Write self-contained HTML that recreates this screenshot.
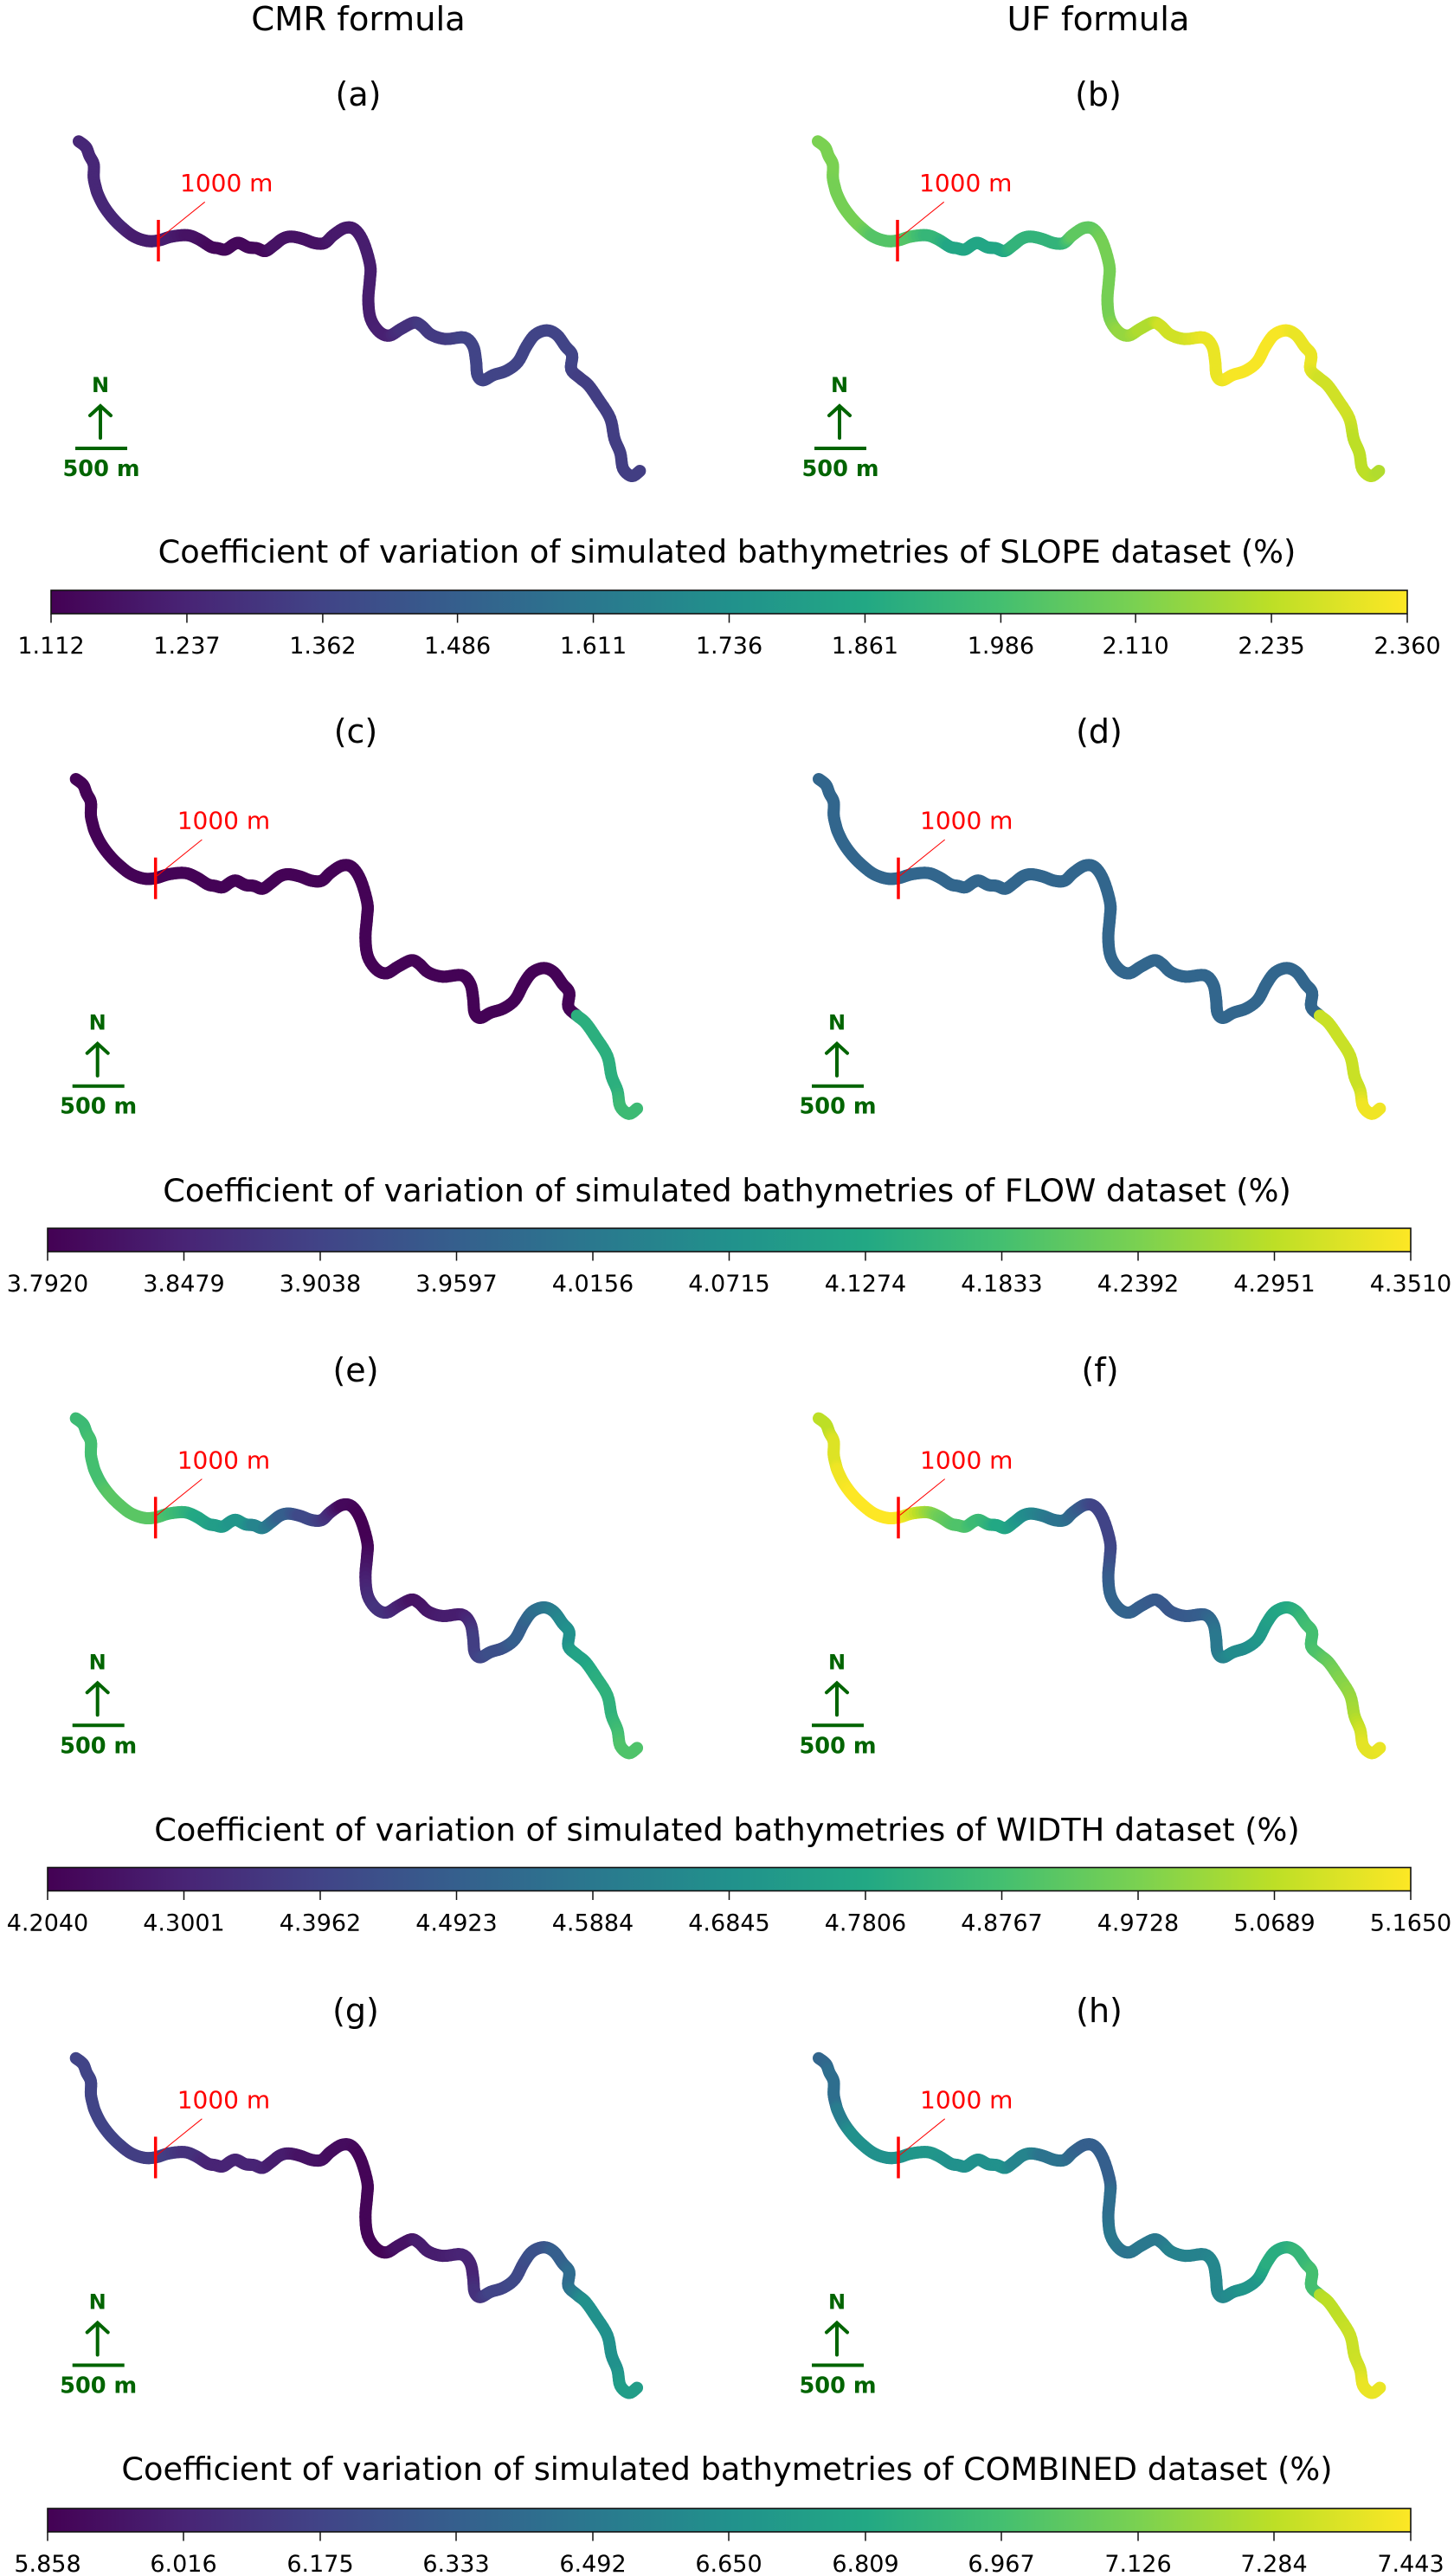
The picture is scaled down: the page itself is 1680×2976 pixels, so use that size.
<!DOCTYPE html>
<html lang="en">
<head>
<meta charset="utf-8">
<title>Coefficient of variation of simulated bathymetries</title>
<style>
html,body{margin:0;padding:0;background:#fff;}
svg{display:block;font-family:"DejaVu Sans","Liberation Sans",sans-serif;}
.col{font-size:38.5px;text-anchor:middle;fill:#000;}
.sub{font-size:38px;text-anchor:middle;fill:#000;}
.cbt{font-size:36.7px;text-anchor:middle;fill:#000;}
.km{font-size:28px;fill:#f00;}
.n{font-size:24px;font-weight:bold;fill:#006400;text-anchor:middle;}
.sc{font-size:25.6px;font-weight:bold;fill:#006400;text-anchor:middle;}
.tl{font-size:27px;text-anchor:middle;fill:#000;}
</style>
</head>
<body>
<svg id="fig" width="1680" height="2976" viewBox="0 0 1680 2976" xmlns="http://www.w3.org/2000/svg">
<defs>
<linearGradient id="viridis" x1="0" x2="1" y1="0" y2="0">
<stop offset="0" stop-color="#440154"/><stop offset=".1" stop-color="#482475"/><stop offset=".2" stop-color="#414487"/><stop offset=".3" stop-color="#355f8d"/><stop offset=".4" stop-color="#2a788e"/><stop offset=".5" stop-color="#21918c"/><stop offset=".6" stop-color="#22a884"/><stop offset=".7" stop-color="#44bf70"/><stop offset=".8" stop-color="#7ad151"/><stop offset=".9" stop-color="#bddf26"/><stop offset="1" stop-color="#fde725"/>
</linearGradient>
</defs>
<rect width="1680" height="2976" fill="#fff"/>

<text class="col" x="414" y="35">CMR formula</text>
<text class="col" x="1269" y="35">UF formula</text>

<text class="sub" x="414" y="122">(a)</text>
<text class="sub" x="1269" y="122">(b)</text>
<text class="sub" x="411" y="858">(c)</text>
<text class="sub" x="1270" y="858">(d)</text>
<text class="sub" x="411" y="1596">(e)</text>
<text class="sub" x="1271" y="1596">(f)</text>
<text class="sub" x="411" y="2336">(g)</text>
<text class="sub" x="1270" y="2336">(h)</text>

<g id="panel-a" transform="translate(0,0)">
<g class="river"></g>
<line x1="183" y1="254" x2="183" y2="302" stroke="#f00" stroke-width="3.5"/>
<line x1="185" y1="275" x2="236.7" y2="233.3" stroke="#f00" stroke-width="1"/>
<text class="km" x="208" y="221">1000 m</text>
<text class="n" x="116" y="453">N</text>
<path d="M116 506V470M104 480L116 469L128 480" fill="none" stroke="#006400" stroke-width="4" stroke-linecap="round"/>
<line x1="87" y1="518" x2="147" y2="518" stroke="#006400" stroke-width="4"/>
<text class="sc" x="117" y="550">500 m</text>
</g>

<g id="panel-b" transform="translate(854,0)">
<g class="river"></g>
<line x1="183" y1="254" x2="183" y2="302" stroke="#f00" stroke-width="3.5"/>
<line x1="185" y1="275" x2="236.7" y2="233.3" stroke="#f00" stroke-width="1"/>
<text class="km" x="208" y="221">1000 m</text>
<text class="n" x="116" y="453">N</text>
<path d="M116 506V470M104 480L116 469L128 480" fill="none" stroke="#006400" stroke-width="4" stroke-linecap="round"/>
<line x1="87" y1="518" x2="147" y2="518" stroke="#006400" stroke-width="4"/>
<text class="sc" x="117" y="550">500 m</text>
</g>

<g id="panel-c" transform="translate(-3.3,736.7)">
<g class="river"></g>
<line x1="183" y1="254" x2="183" y2="302" stroke="#f00" stroke-width="3.5"/>
<line x1="185" y1="275" x2="236.7" y2="233.3" stroke="#f00" stroke-width="1"/>
<text class="km" x="208" y="221">1000 m</text>
<text class="n" x="116" y="453">N</text>
<path d="M116 506V470M104 480L116 469L128 480" fill="none" stroke="#006400" stroke-width="4" stroke-linecap="round"/>
<line x1="87" y1="518" x2="147" y2="518" stroke="#006400" stroke-width="4"/>
<text class="sc" x="117" y="550">500 m</text>
</g>

<g id="panel-d" transform="translate(855,736.7)">
<g class="river"></g>
<line x1="183" y1="254" x2="183" y2="302" stroke="#f00" stroke-width="3.5"/>
<line x1="185" y1="275" x2="236.7" y2="233.3" stroke="#f00" stroke-width="1"/>
<text class="km" x="208" y="221">1000 m</text>
<text class="n" x="112" y="453">N</text>
<path d="M112 506V470M100 480L112 469L124 480" fill="none" stroke="#006400" stroke-width="4" stroke-linecap="round"/>
<line x1="83" y1="518" x2="143" y2="518" stroke="#006400" stroke-width="4"/>
<text class="sc" x="113" y="550">500 m</text>
</g>

<g id="panel-e" transform="translate(-3.3,1475.3)">
<g class="river"></g>
<line x1="183" y1="254" x2="183" y2="302" stroke="#f00" stroke-width="3.5"/>
<line x1="185" y1="275" x2="236.7" y2="233.3" stroke="#f00" stroke-width="1"/>
<text class="km" x="208" y="221">1000 m</text>
<text class="n" x="116" y="453">N</text>
<path d="M116 506V470M104 480L116 469L128 480" fill="none" stroke="#006400" stroke-width="4" stroke-linecap="round"/>
<line x1="87" y1="518" x2="147" y2="518" stroke="#006400" stroke-width="4"/>
<text class="sc" x="117" y="550">500 m</text>
</g>

<g id="panel-f" transform="translate(855,1475.3)">
<g class="river"></g>
<line x1="183" y1="254" x2="183" y2="302" stroke="#f00" stroke-width="3.5"/>
<line x1="185" y1="275" x2="236.7" y2="233.3" stroke="#f00" stroke-width="1"/>
<text class="km" x="208" y="221">1000 m</text>
<text class="n" x="112" y="453">N</text>
<path d="M112 506V470M100 480L112 469L124 480" fill="none" stroke="#006400" stroke-width="4" stroke-linecap="round"/>
<line x1="83" y1="518" x2="143" y2="518" stroke="#006400" stroke-width="4"/>
<text class="sc" x="113" y="550">500 m</text>
</g>

<g id="panel-g" transform="translate(-3.3,2214.5)">
<g class="river"></g>
<line x1="183" y1="254" x2="183" y2="302" stroke="#f00" stroke-width="3.5"/>
<line x1="185" y1="275" x2="236.7" y2="233.3" stroke="#f00" stroke-width="1"/>
<text class="km" x="208" y="221">1000 m</text>
<text class="n" x="116" y="453">N</text>
<path d="M116 506V470M104 480L116 469L128 480" fill="none" stroke="#006400" stroke-width="4" stroke-linecap="round"/>
<line x1="87" y1="518" x2="147" y2="518" stroke="#006400" stroke-width="4"/>
<text class="sc" x="117" y="550">500 m</text>
</g>

<g id="panel-h" transform="translate(855,2214.5)">
<g class="river"></g>
<line x1="183" y1="254" x2="183" y2="302" stroke="#f00" stroke-width="3.5"/>
<line x1="185" y1="275" x2="236.7" y2="233.3" stroke="#f00" stroke-width="1"/>
<text class="km" x="208" y="221">1000 m</text>
<text class="n" x="112" y="453">N</text>
<path d="M112 506V470M100 480L112 469L124 480" fill="none" stroke="#006400" stroke-width="4" stroke-linecap="round"/>
<line x1="83" y1="518" x2="143" y2="518" stroke="#006400" stroke-width="4"/>
<text class="sc" x="113" y="550">500 m</text>
</g>

<text class="cbt" x="840" y="650">Coefficient of variation of simulated bathymetries of SLOPE dataset (%)</text>
<text class="cbt" x="840" y="1388">Coefficient of variation of simulated bathymetries of FLOW dataset (%)</text>
<text class="cbt" x="840" y="2126.5">Coefficient of variation of simulated bathymetries of WIDTH dataset (%)</text>
<text class="cbt" x="840" y="2865">Coefficient of variation of simulated bathymetries of COMBINED dataset (%)</text>

<g id="cbar-slope"></g>
<g id="cbar-flow"></g>
<g id="cbar-width"></g>
<g id="cbar-combined"></g>
</svg>

<script>
// River centreline, map coordinates in metres from the lower-left corner of the panel.
const riverEasting = [50,119,153,194,194,214,236,292,375,472,
583,708,819,944,1097,1208,1319,1389,1464,1542,
1597,1681,1764,1847,1931,2014,2097,2208,2319,2417,
2500,2611,2708,2792,2856,2853,2838,2861,2944,3042,
3153,3278,3353,3444,3583,3764,3847,3875,3889,3944,
4042,4167,4278,4361,4444,4556,4653,4736,4800,4792,
4875,4958,5056,5167,5208,5264,5292,5375,5453];
const riverNorthing = [3306,3250,3167,3083,2958,2861,2792,2681,2569,2472,
2389,2347,2352,2389,2402,2361,2292,2277,2264,2314,
2327,2286,2277,2250,2306,2369,2389,2367,2327,2327,
2402,2472,2458,2333,2111,1972,1778,1597,1472,1436,
1500,1561,1528,1444,1403,1417,1333,1194,1056,1006,
1056,1097,1181,1333,1444,1486,1444,1333,1250,1111,
1028,958,819,639,444,306,153,83,133];

// Coefficient of variation (%) at each river station, one array per panel.
const cvSlopeCmr = [1.249,1.249,1.249,1.249,1.249,1.249,1.249,1.249,1.249,1.249,
1.212,1.212,1.212,1.212,1.174,1.174,1.137,1.137,1.137,1.137,
1.137,1.137,1.137,1.137,1.174,1.174,1.174,1.174,1.174,1.174,
1.199,1.199,1.199,1.212,1.212,1.212,1.212,1.212,1.224,1.224,
1.287,1.287,1.324,1.324,1.324,1.362,1.362,1.362,1.362,1.362,
1.362,1.362,1.362,1.362,1.362,1.362,1.362,1.362,1.362,1.362,
1.337,1.337,1.337,1.337,1.337,1.337,1.337,1.337,1.337];
const cvSlopeUf = [2.110,2.110,2.110,2.110,2.110,2.098,2.098,2.098,2.098,2.098,
2.023,2.023,2.023,2.023,1.936,1.936,1.848,1.848,1.848,1.848,
1.848,1.848,1.848,1.848,1.923,1.923,1.923,1.923,1.923,1.923,
2.048,2.048,2.048,2.098,2.098,2.098,2.098,2.098,2.160,2.160,
2.210,2.210,2.273,2.273,2.273,2.323,2.323,2.323,2.323,2.323,
2.348,2.348,2.348,2.348,2.348,2.348,2.323,2.323,2.323,2.323,
2.273,2.273,2.273,2.273,2.235,2.235,2.235,2.235,2.210];
const cvFlowCmr = [3.795,3.795,3.795,3.795,3.795,3.795,3.795,3.795,3.795,3.795,
3.795,3.795,3.795,3.795,3.795,3.795,3.795,3.795,3.795,3.795,
3.795,3.795,3.795,3.795,3.795,3.795,3.795,3.795,3.795,3.795,
3.795,3.795,3.795,3.795,3.795,3.795,3.795,3.795,3.795,3.795,
3.795,3.795,3.795,3.795,3.795,3.795,3.795,3.795,3.795,3.795,
3.795,3.795,3.795,3.795,3.795,3.795,3.795,3.795,3.795,3.795,
4.144,4.144,4.144,4.144,4.144,4.144,4.172,4.172,4.172];
const cvFlowUf = [3.976,3.976,3.976,3.976,3.976,3.976,3.976,3.976,3.976,3.976,
3.976,3.976,3.976,3.976,3.976,3.976,3.976,3.976,3.976,3.976,
3.976,3.976,3.976,3.976,3.976,3.976,3.976,3.976,3.976,3.976,
3.976,3.976,3.976,3.976,3.976,3.976,3.976,3.976,3.976,3.976,
3.976,3.976,3.976,3.976,3.976,3.976,3.976,3.976,3.976,3.976,
3.976,3.976,3.976,3.976,3.976,3.976,3.976,3.976,3.976,3.976,
4.306,4.306,4.306,4.306,4.306,4.306,4.340,4.340,4.340];
const cvWidthCmr = [4.857,4.857,4.857,4.877,4.877,4.877,4.877,4.877,4.915,4.915,
4.915,4.915,4.915,4.877,4.829,4.781,4.761,4.733,4.733,4.704,
4.704,4.704,4.636,4.636,4.569,4.492,4.492,4.415,4.415,4.377,
4.319,4.223,4.223,4.204,4.204,4.233,4.281,4.319,4.348,4.339,
4.300,4.252,4.252,4.262,4.281,4.281,4.319,4.377,4.377,4.396,
4.435,4.435,4.492,4.492,4.540,4.569,4.608,4.656,4.685,4.685,
4.761,4.761,4.800,4.819,4.819,4.857,4.896,4.896,4.896];
const cvWidthUf = [5.069,5.069,5.069,5.117,5.117,5.117,5.146,5.146,5.165,5.165,
5.165,5.165,5.165,5.117,5.021,4.954,4.915,4.896,4.896,4.857,
4.857,4.829,4.781,4.781,4.733,4.685,4.656,4.608,4.569,4.569,
4.512,4.454,4.396,4.396,4.396,4.415,4.473,4.512,4.512,4.512,
4.492,4.473,4.473,4.463,4.473,4.492,4.540,4.588,4.588,4.617,
4.665,4.665,4.704,4.733,4.761,4.781,4.809,4.857,4.877,4.877,
4.896,4.934,4.973,5.011,5.040,5.088,5.127,5.127,5.136];
const cvCombinedCmr = [6.175,6.175,6.175,6.175,6.175,6.175,6.175,6.175,6.175,6.175,
6.143,6.143,6.143,6.143,6.080,6.080,6.017,6.017,6.017,6.017,
6.017,6.017,6.017,6.017,5.985,5.985,5.985,5.937,5.937,5.937,
5.906,5.906,5.906,5.874,5.874,5.874,5.874,5.874,5.874,5.874,
5.937,5.937,5.985,5.985,5.985,6.017,6.017,6.017,6.080,6.080,
6.175,6.175,6.207,6.207,6.254,6.254,6.334,6.334,6.413,6.413,
6.524,6.651,6.651,6.651,6.651,6.651,6.730,6.730,6.730];
const cvCombinedUf = [6.381,6.381,6.429,6.429,6.429,6.429,6.524,6.524,6.651,6.651,
6.651,6.651,6.651,6.682,6.682,6.682,6.651,6.651,6.651,6.651,
6.651,6.651,6.651,6.651,6.571,6.571,6.571,6.460,6.460,6.460,
6.381,6.334,6.334,6.334,6.334,6.429,6.429,6.492,6.492,6.460,
6.492,6.492,6.492,6.555,6.555,6.555,6.587,6.587,6.587,6.587,
6.619,6.682,6.682,6.841,6.841,6.841,6.904,6.904,6.968,6.968,
7.253,7.285,7.285,7.316,7.316,7.332,7.395,7.395,7.395];

// Colour-bar tick labels.
const ticksSlope = ["1.112","1.237","1.362","1.486","1.611","1.736","1.861","1.986","2.110","2.235","2.360"];
const ticksFlow = ["3.7920","3.8479","3.9038","3.9597","4.0156","4.0715","4.1274","4.1833","4.2392","4.2951","4.3510"];
const ticksWidth = ["4.2040","4.3001","4.3962","4.4923","4.5884","4.6845","4.7806","4.8767","4.9728","5.0689","5.1650"];
const ticksCombined = ["5.858","6.016","6.175","6.333","6.492","6.650","6.809","6.967","7.126","7.284","7.443"];

const SVGNS = "http://www.w3.org/2000/svg";
const VIRIDIS = [[68,1,84],[72,36,117],[65,68,135],[53,95,141],[42,120,142],[33,145,140],[34,168,132],[68,191,112],[122,209,81],[189,223,38],[253,231,37]];
const PX_PER_M = 0.12;
function xMap(e){ return 85 + e * PX_PER_M; }
function yMap(n){ return 560 - n * PX_PER_M; }
function viridis(t){
  t = Math.max(0, Math.min(1, t)) * 10;
  const i = Math.min(9, Math.floor(t)), f = t - i;
  const a = VIRIDIS[i], b = VIRIDIS[i + 1];
  return "rgb(" + [0,1,2].map(function(k){ return Math.round(a[k] + (b[k] - a[k]) * f); }).join(",") + ")";
}
function catmull(p0, p1, p2, p3, u){
  return 0.5 * (2 * p1 + (p2 - p0) * u + (2 * p0 - 5 * p1 + 4 * p2 - p3) * u * u + (3 * p1 - p0 - 3 * p2 + p3) * u * u * u);
}
function drawRiver(panelId, values, ticks){
  const vmin = parseFloat(ticks[0]);
  const vmax = parseFloat(ticks[ticks.length - 1]);
  const norm = function(v){ return (v - vmin) / (vmax - vmin); };
  const host = document.querySelector("#" + panelId + " .river");
  const N = riverEasting.length;
  const SUB = 5;
  const px = riverEasting.map(xMap);
  const py = riverNorthing.map(yMap);
  for (let i = 0; i < N - 1; i++) {
    const a = Math.max(0, i - 1), b = i + 1, c = Math.min(N - 1, i + 2);
    const t0 = norm(values[i]), t1 = norm(values[i + 1]);
    const jump = Math.abs(t1 - t0) > 0.12;
    for (let s = 0; s < SUB; s++) {
      const u0 = s / SUB, u1 = (s + 1) / SUB, um = (u0 + u1) / 2;
      const tv = jump ? t0 : t0 + (t1 - t0) * um;
      const seg = document.createElementNS(SVGNS, "line");
      seg.setAttribute("x1", catmull(px[a], px[i], px[b], px[c], u0).toFixed(2));
      seg.setAttribute("y1", catmull(py[a], py[i], py[b], py[c], u0).toFixed(2));
      seg.setAttribute("x2", catmull(px[a], px[i], px[b], px[c], u1).toFixed(2));
      seg.setAttribute("y2", catmull(py[a], py[i], py[b], py[c], u1).toFixed(2));
      seg.setAttribute("stroke", viridis(tv));
      seg.setAttribute("stroke-width", "14");
      seg.setAttribute("stroke-linecap", "round");
      
      
      host.appendChild(seg);
    }
  }
}
function drawColorbar(id, ticks, x0, x1, top){
  const host = document.getElementById(id);
  const h = 27;
  const vmin = parseFloat(ticks[0]);
  const vmax = parseFloat(ticks[ticks.length - 1]);
  const scale = function(v){ return x0 + (v - vmin) / (vmax - vmin) * (x1 - x0); };
  const bar = document.createElementNS(SVGNS, "rect");
  bar.setAttribute("x", x0);
  bar.setAttribute("y", top);
  bar.setAttribute("width", x1 - x0);
  bar.setAttribute("height", h);
  bar.setAttribute("fill", "url(#viridis)");
  bar.setAttribute("stroke", "#111");
  bar.setAttribute("stroke-width", "1.6");
  
  
  host.appendChild(bar);
  ticks.forEach(function(label){
    const x = scale(parseFloat(label));
    const tick = document.createElementNS(SVGNS, "line");
    tick.setAttribute("x1", x);
    tick.setAttribute("x2", x);
    tick.setAttribute("y1", top + h);
    tick.setAttribute("y2", top + h + 10.5);
    tick.setAttribute("stroke", "#111");
    tick.setAttribute("stroke-width", "1.5");
    
    
    host.appendChild(tick);
    const text = document.createElementNS(SVGNS, "text");
    text.setAttribute("class", "tl");
    text.setAttribute("x", x);
    text.setAttribute("y", top + 73);
    text.textContent = label;
    
    
    host.appendChild(text);
  });
}
drawRiver("panel-a", cvSlopeCmr, ticksSlope);
drawRiver("panel-b", cvSlopeUf, ticksSlope);
drawRiver("panel-c", cvFlowCmr, ticksFlow);
drawRiver("panel-d", cvFlowUf, ticksFlow);
drawRiver("panel-e", cvWidthCmr, ticksWidth);
drawRiver("panel-f", cvWidthUf, ticksWidth);
drawRiver("panel-g", cvCombinedCmr, ticksCombined);
drawRiver("panel-h", cvCombinedUf, ticksCombined);
drawColorbar("cbar-slope", ticksSlope, 59, 1626, 682);
drawColorbar("cbar-flow", ticksFlow, 55, 1630, 1419);
drawColorbar("cbar-width", ticksWidth, 55, 1630, 2157.5);
drawColorbar("cbar-combined", ticksCombined, 55, 1630, 2898);
</script>
</body>
</html>
